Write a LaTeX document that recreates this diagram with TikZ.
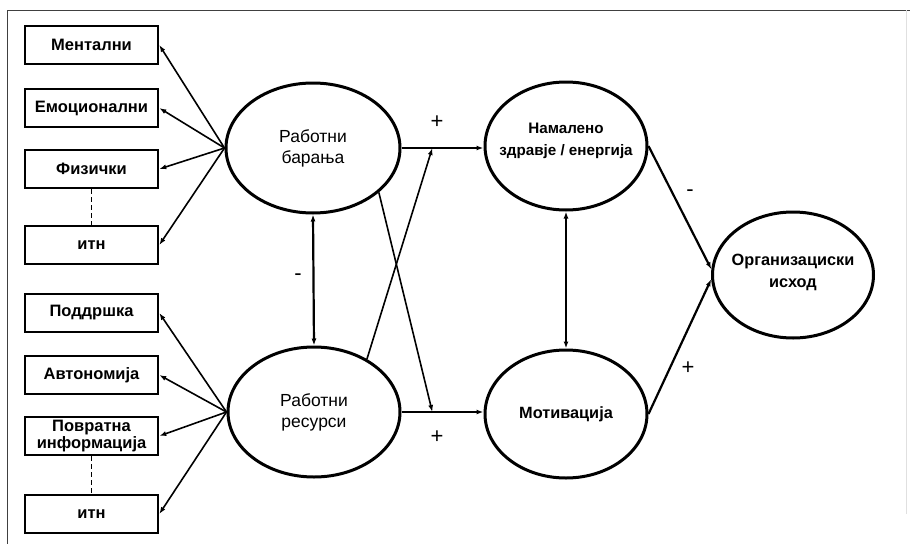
\documentclass[tikz,border=0pt]{standalone}
\usepackage{fontspec}
\setmainfont{Liberation Sans}
\usetikzlibrary{arrows.meta,calc,shapes.geometric}

\begin{document}
\begin{tikzpicture}[x=1pt,y=-1pt,
  factor/.style={draw=black,line width=2.6pt,minimum width=133pt,minimum height=38pt,
    inner sep=0pt,align=center,font=\fontsize{16.5}{14.5}\selectfont\bfseries},
  latent/.style={draw=black,line width=3pt,ellipse,inner sep=0pt},
  ltext/.style={align=center,font=\fontsize{17.5}{21}\selectfont},
  btext/.style={align=center,font=\fontsize{16.3}{22}\selectfont\bfseries},
  arr/.style={line width=1.6pt,-{Latex[length=7pt,width=5pt]}},
  twoarr/.style={line width=2.2pt,{Latex[length=7pt,width=5pt]}-{Latex[length=7pt,width=5pt]}},
  sign/.style={font=\fontsize{22}{22}\selectfont}]
  \useasboundingbox (0,0) rectangle (914,544);
  \draw [black!75,line width=1pt] (7,544) -- (7,10) -- (910,10);
  \draw [black!12,line width=0.6pt] (906,10) -- (906,514);

  \node [factor] (ment) at (91.5,45) {Ментални};
  \node [factor] (emo) at (91.5,108) {Емоционални};
  \node [factor] (fiz) at (91.5,169) {Физички};
  \node [factor] (itn1) at (91.5,245) {итн};
  \node [factor] (podd) at (91.5,313) {Поддршка};
  \node [factor] (avto) at (91.5,375) {Автономија};
  \node [factor] (povr) at (91.5,436) {Повратна\\информација};
  \node [factor] (itn2) at (91.5,514) {итн};

  \node [latent,minimum width=174pt,minimum height=130pt,
    label={[ltext]center:Работни\\барања}] (bar) at (313,148) {};
  \node [latent,minimum width=172pt,minimum height=130pt,
    label={[ltext]center:Работни\\ресурси}] (res) at (314,412) {};
  \node [latent,minimum width=162pt,minimum height=128pt,
    label={[btext,font=\fontsize{15.2}{22}\selectfont\bfseries,yshift=5pt]center:Намалено\\здравје / енергија}] (zdr) at (566,146) {};
  \node [latent,minimum width=162pt,minimum height=128pt,
    label={[btext]center:Мотивација}] (mot) at (566,414) {};
  \node [latent,minimum width=161pt,minimum height=126pt,
    label={[btext,yshift=3pt]center:Организациски\\исход}] (izh) at (793,275) {};

  \foreach \b in {ment,emo,fiz,itn1}
    \draw [arr] (bar.west) -- (\b.east);
  \foreach \b in {podd,avto,povr,itn2}
    \draw [arr] (res.west) -- (\b.east);
  \draw [line width=1.6pt,dashed,dash pattern=on 5pt off 3pt] (fiz.south) -- (itn1.north);
  \draw [line width=1.6pt,dashed,dash pattern=on 5pt off 3pt] (povr.south) -- (itn2.north);

  \draw [twoarr] (bar.south) -- (res.north);
  \draw [twoarr] (zdr.south) -- (mot.north);

  \draw [arr,line width=2.2pt] (bar.east) -- (bar.east -| zdr.west) coordinate [pos=0.376] (jtop);
  \draw [arr,line width=2.2pt] (res.east) -- (res.east -| mot.west) coordinate [pos=0.376] (jbot);
  \draw [arr] (bar.-34) -- (jbot);
  \draw [arr] (res.45) -- (jtop);

  \draw [arr,line width=2.2pt] (zdr.east) -- (izh.176);
  \draw [arr,line width=2.2pt] (mot.east) -- (izh.183);

  \node [sign] (p1) at (437,122) {+};
  \node [sign] (p2) at (437,437) {+};
  \node [sign] (p3) at (688,368) {+};
  \node [sign] (m1) at (298,277) {-};
  \node [sign] (m2) at (690,193) {-};
\end{tikzpicture}
\end{document}
